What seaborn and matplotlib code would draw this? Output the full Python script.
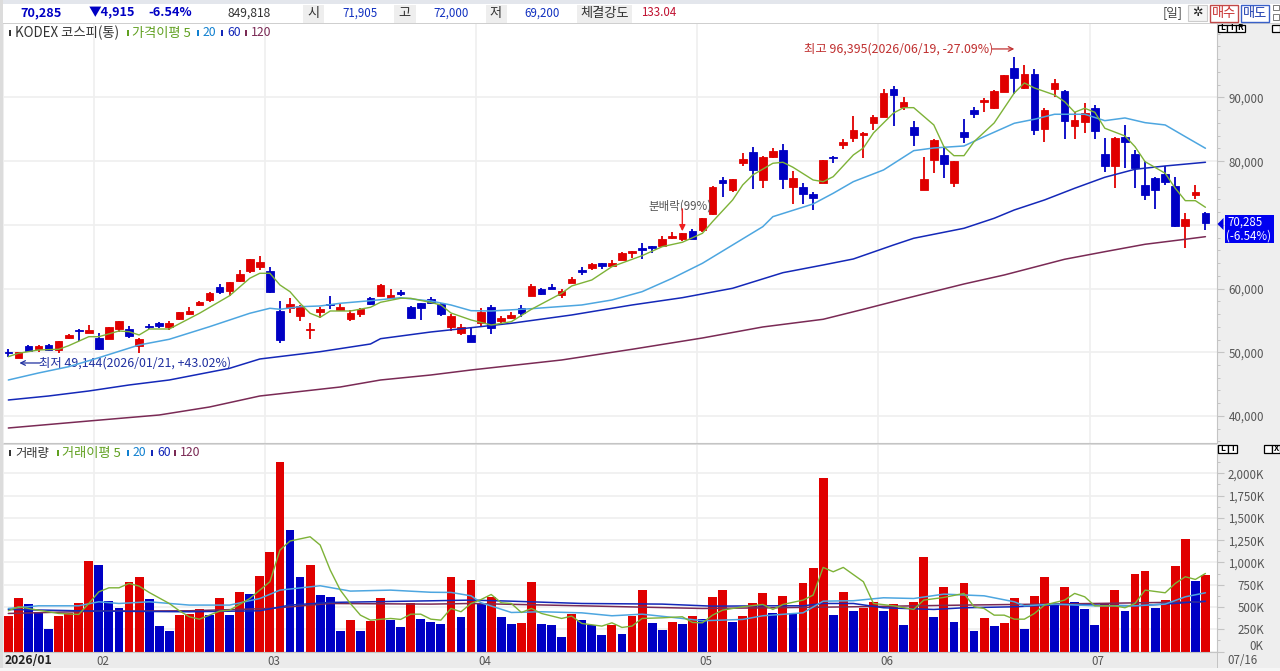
import numpy as np
import pandas as pd
import seaborn as sns
import matplotlib.pyplot as plt
from matplotlib.patches import Rectangle, Polygon

wick_high = [50466,50042,51141,51141,51298,51769,52868,53653,54281,52978,
    53967,54909,54124,52287,54391,54752,54956,56322,57060,57971,
    59415,60765,61079,62869,64643,65114,63387,58096,58567,57421,
    54548,57154,58881,57688,56683,56950,58677,60718,59886,59729,
    57186,57735,58724,57656,55961,54391,54014,56902,57374,55694,
    56369,57374,60718,60012,60718,59886,61864,63387,64015,64015,
    64486,65663,65899,67202,66684,68254,68882,68725,69306,71080,
    76104,77470,77203,81238,82274,80814,82070,82698,78459,76575,
    75162,80186,80814,83436,87094,84629,87251,91333,91804,90124,
    86356,80704,83405,82274,80029,86576,88460,89967,91176,93531,
    96395,95054,94426,88303,92903,91176,87769,89182,88868,83640,
    83718,85681,81756,79982,77439,79244,77564,71818,76261,72000]
wick_low = [49210,49144,50199,50088,50199,49932,52083,51816,52978,50309,
    52083,53229,52287,49838,53606,53857,53543,55066,55804,57264,
    57939,59101,58834,61079,62492,62916,59368,51502,56118,54909,
    52036,55427,56746,56479,54956,55490,57468,58756,58441,58881,
    55176,55066,57578,55694,53386,52711,51612,54124,52915,54391,
    55270,55584,58834,58991,59886,58567,60875,62131,62916,63120,
    63340,64408,64800,64596,65585,66684,67830,67469,67704,68882,
    71551,74330,75115,79244,75680,75837,80500,75680,73278,73231,
    72336,76575,79762,81960,83059,80453,84896,86859,85524,88036,
    82431,75476,78192,77407,75995,82902,86733,87722,88240,90862,
    90548,91380,84158,82965,90124,83530,83530,84472,83530,78302,
    75790,78930,75837,73906,72540,76261,69714,66323,74015,69200]
body_top = [50042,50042,51031,51031,51141,51769,52711,53543,53496,52287,
    53920,54909,53653,52036,54124,54642,54595,56275,56432,57939,
    59258,60294,60985,62288,64596,64172,62712,56479,57531,57264,
    53700,56840,57578,57060,56118,56840,58567,60561,59038,59415,
    57060,57688,58410,57578,55694,54014,52711,56275,57154,55380,
    55804,56997,60357,59933,60200,59572,61503,62964,63811,63967,
    64015,65632,65852,66417,66637,67783,68254,68678,68992,71033,
    75994,76999,77156,80296,81489,80704,81647,81803,77360,75947,
    74848,80139,80704,83012,84896,84425,86890,90752,91333,89245,
    85367,77203,83326,80924,79982,84582,88036,89606,91066,93531,
    94583,93688,93688,87989,92275,91066,86466,87612,88303,81175,
    83640,83797,81081,76261,77360,77988,76104,70876,75209,71905]
body_bottom = [49948,49147,50246,50513,50356,50356,52193,53292,53072,50466,
    52130,53653,52601,51031,53967,54077,53967,55223,56008,57421,
    58159,59462,59666,61189,62759,63387,59415,51926,56903,55694,
    53449,56322,57372,56589,55223,56055,57578,58787,58473,59101,
    55333,56950,57782,56008,54014,53072,51659,54642,53810,54956,
    55333,56212,58881,59101,59980,58944,60922,62555,63182,63497,
    63497,64439,65538,66009,66417,66731,67987,67830,67736,69196,
    71708,76622,75523,79762,78616,77093,80610,77250,75900,74895,
    74173,76622,80500,82588,83687,84064,86042,86890,90438,88460,
    84111,75523,80186,79558,76622,83844,87455,89292,88303,90909,
    93107,91490,84943,85100,91380,86356,85571,86199,84786,79244,
    79244,83012,78930,74738,75523,76779,69871,69824,74644,70285]
candle_colors = list("BRBRBRRBRB" "RRBRBBRRRR" "RBRRRRBBRR" "RRBRRRBRRB"
                     "BBBBRRBRBR" "RBRBBRRBRB" "RRRBBRRRBR" "RBRRBRRBRB"
                     "BRBRRRRRBR" "BRRBRBBRRR" "BRBRRBRRBB" "RBBBBBBRRB")

volume = [400,595,532,438,255,400,427,540,1015,970,
    562,487,783,839,584,285,232,408,423,472,
    408,595,408,663,648,850,1112,2127,1363,835,
    970,629,607,232,352,232,345,595,352,277,
    540,363,333,307,839,386,805,539,614,386,
    307,318,783,307,296,165,419,352,296,187,
    296,202,397,685,318,243,330,307,397,363,
    607,685,330,397,539,652,427,618,427,771,
    936,1951,408,670,453,483,551,453,532,296,
    551,1060,386,719,330,771,232,375,285,318,
    595,255,618,839,539,719,551,476,296,539,
    693,453,869,903,487,573,959,1266,790,858]
volume_colors = list("RRBBBRRRRB" "BBRRBBBRRR" "BRBRBRRRBB" "RBBBRBRRBB"
                     "RBBBRBRBRB" "BRRBBBRBBB" "RBRRBBRBRB" "RRBRRRBRBR"
                     "RRBRBRRBRB" "RRBRBRBRBR" "RBRRBRBBBR" "RBRRBRRRBR")

ma5_x = [0,1,3,5,6,8,9,11,12,13,14,16,19,22,24,25,26,27,28,29,30,31,32,34,36,37,39,40,
    42,43,44,46,48,50,52,55,56,58,60,63,65,67,69,70,72,73,74,76,77,78,80,81,82,84,85,
    86,88,89,90,92,93,94,95,96,98,100,101,102,104,105,106,107,108,109,111,112,113,115,
    116,117,118,119]
ma5 = [49305,49838,50356,50466,51031,52444,52444,53339,53229,52711,53653,53653,56118,
    58881,61613,62398,62398,60561,59509,57688,56118,55490,56479,56479,57060,57845,
    58473,58473,57813,57421,56165,55066,54281,54799,56746,59258,60404,61346,63434,
    65161,66574,67265,68678,70499,73906,76261,77831,79668,79825,79040,77046,76779,
    77564,80971,82070,84425,87565,88397,88397,85681,82274,80861,80861,83059,85995,
    90705,92275,91490,90391,89339,87675,88303,87675,85163,83954,82274,79919,78098,
    75743,73796,73796,72760]
ma20_x = [0,3,6,9,13,16,20,24,26,27,29,31,33,36,39,41,42,44,46,48,52,57,60,63,66,69,72,
    75,76,80,82,84,87,90,92,95,97,100,102,104,107,109,111,113,115,117,119]
ma20 = [45646,46745,47734,49147,51141,52036,54014,56118,56903,56746,57154,57264,57688,
    58096,58567,58206,58049,57421,56526,56479,56840,57421,58206,59509,61613,63968,
    66841,69714,71284,73278,74958,76779,78616,81646,82070,82384,83844,85948,86576,
    87361,87361,86356,86780,86042,85681,83844,82023]
ma60_x = [0,4,8,12,16,22,25,31,36,37,42,46,50,56,62,67,72,77,81,84,88,90,95,98,100,103,
    106,109,112,115,119]
ma60 = [42506,43134,43919,44861,45646,47483,48943,50090,51298,52130,53182,53857,54548,
    55851,57421,58567,60043,62492,63701,64643,66841,67893,69463,71033,72336,73906,
    75743,77470,78726,79244,79825]
ma120_x = [0,8,15,20,25,33,37,42,46,55,62,69,75,81,85,89,95,99,105,109,113,117,119]
ma120 = [38110,39209,40151,41407,43134,44547,45646,46431,47216,48786,50466,52240,53970,
    55176,56746,58363,60718,62131,64596,65789,66951,67736,68144]

vma5_x = [0,1,3,5,7,8,9,10,11,12,13,14,16,17,18,19,20,21,22,24,25,26,27,28,30,31,32,33,
    34,35,36,38,39,40,41,42,43,44,45,46,47,48,49,50,51,52,53,55,56,57,59,60,61,62,63,
    65,67,68,69,70,71,73,75,76,77,79,80,81,82,83,85,86,88,90,91,93,95,96,97,98,99,100,
    101,102,103,105,106,107,108,110,111,112,113,115,116,117,118,119]
vma5 = [457,502,464,427,416,539,670,715,715,764,734,663,539,457,389,363,408,453,464,
    595,689,783,1138,1240,1288,1195,914,689,539,408,352,371,360,419,419,363,352,483,
    446,539,584,640,547,539,438,483,427,371,397,315,285,322,270,285,371,378,390,326,
    322,408,464,502,528,472,528,577,633,944,895,944,783,539,513,472,577,607,652,502,
    483,408,408,363,363,427,521,577,652,614,513,513,491,539,689,659,764,839,809,876]
vma20_x = [0,3,7,9,11,14,18,22,25,27,31,34,38,42,44,46,47,50,53,57,60,63,67,69,73,75,79,
    81,84,87,90,93,97,100,101,104,108,112,115,117,119]
vma20 = [483,513,513,558,539,558,521,521,595,689,738,678,689,665,663,625,547,438,446,
    434,401,419,371,345,360,401,434,565,570,603,595,644,625,558,513,532,513,513,532,
    614,659]
vma60_x = [0,9,18,25,28,32,42,46,50,57,65,70,76,79,81,84,87,92,95,100,105,112,115,119]
vma60 = [472,453,446,457,521,551,569,577,565,539,532,509,513,513,539,539,491,472,491,
    502,528,513,532,565]
vma120_x = [0,9,18,26,32,42,46,57,69,76,84,95,108,119]
vma120 = [427,453,457,483,539,532,539,513,483,491,502,521,539,558]

month_pos = [8.5, 25.5, 46.5, 68.5, 86.5, 107.5]
month_labels = ['02', '03', '04', '05', '06', '07']
price_ticks = [40000, 50000, 60000, 70000, 80000, 90000]
volume_ticks = [0, 250, 500, 750, 1000, 1250, 1500, 1750, 2000]

RED = '#E00000'
BLUE = '#0000C4'
GREEN = '#7DB237'
SKY = '#4DA6E0'
NAVY = '#1428B8'
MAROON = '#7A2A55'
GRID = '#EFEFEF'

sns.set_style('white', {'axes.edgecolor': '#C4C4C4'})
plt.rcParams['font.family'] = ['Noto Sans CJK KR', 'DejaVu Sans']
plt.rcParams['font.size'] = 8.3

W, H = 1280, 671
fig = plt.figure(figsize=(12.8, 6.71), dpi=100, facecolor='#EEEEEE')


def box(x0, y0, x1, y1, face, edge='none', lw=0.0, zorder=-5):
    fig.add_artist(Rectangle((x0 / W, 1 - y1 / H), (x1 - x0) / W, (y1 - y0) / H,
                             transform=fig.transFigure, facecolor=face,
                             edgecolor=edge, linewidth=lw, zorder=zorder))


def label(x, y, s, color='#333333', ha='left', size=8.3, weight='normal', zorder=6):
    fig.text(x / W, 1 - y / H, s, color=color, ha=ha, va='center', fontsize=size,
             fontweight=weight, zorder=zorder)


def panel(y0, y1):
    return fig.add_axes([4 / W, 1 - y1 / H, 1213 / W, (y1 - y0) / H])


ax = panel(24, 443)
ax_vol = panel(445, 651.5)

# candles
x = np.arange(120)
colors = [RED if c == 'R' else BLUE for c in candle_colors]
ax.vlines(x, wick_low, wick_high, colors=colors, linewidth=1.3, zorder=3)
# force_edgecolor in the seaborn style paints white edges, so set them here
ax.bar(x, np.array(body_top) - np.array(body_bottom), bottom=body_bottom, width=0.76,
       color=colors, edgecolor=colors, linewidth=0.6, zorder=3)

# moving averages on price
for xs, ys, col, lw in [(ma120_x, ma120, MAROON, 1.1), (ma60_x, ma60, NAVY, 1.1),
                        (ma20_x, ma20, SKY, 1.1), (ma5_x, ma5, GREEN, 1.0)]:
    sns.lineplot(x=xs, y=ys, color=col, linewidth=lw, ax=ax, zorder=4)

# volume bars
vol_df = pd.DataFrame({'i': x, 'volume': volume, 'side': volume_colors})
sns.barplot(data=vol_df, x='i', y='volume', hue='side', palette={'R': RED, 'B': BLUE},
            native_scale=True, dodge=False, width=0.88, saturation=1, legend=False,
            edgecolor='none', linewidth=0, ax=ax_vol, zorder=2)
for xs, ys, col, lw in [(vma120_x, vma120, MAROON, 1.1), (vma60_x, vma60, NAVY, 1.1),
                        (vma20_x, vma20, SKY, 1.1), (vma5_x, vma5, GREEN, 1.0)]:
    sns.lineplot(x=xs, y=ys, color=col, linewidth=lw, ax=ax_vol, zorder=4)

for a in (ax, ax_vol):
    a.set_xlim(-0.43, 120.15)
    a.set_xlabel('')
    a.set_ylabel('')
    a.set_facecolor('white')
    a.set_xticks(month_pos)
    a.grid(True, color=GRID, linewidth=1.2, zorder=0)
    a.set_axisbelow(True)
    a.yaxis.tick_right()
    for side in ['top', 'left']:
        a.spines[side].set_visible(False)
    a.tick_params(axis='x', length=0)
    a.tick_params(axis='y', which='major', length=5, width=0.8, color='#C4C4C4',
                  labelcolor='#555555', pad=29, labelsize=8.3)
    a.tick_params(axis='y', which='minor', length=2.5, width=0.7, color='#C4C4C4')

# the 70,000 tick sits behind the last price flag
ax.set_ylim(35755, 101530)
ax.set_yticks(price_ticks, [f'{v:,}' if v != 70000 else '' for v in price_ticks])
ax.set_yticks(np.arange(36000, 102000, 2000), minor=True)
ax.set_xticklabels([])

ax_vol.set_ylim(0, 2318)
ax_vol.set_yticks(volume_ticks, [f'{v:,}K' if v else '' for v in volume_ticks])
ax_vol.set_yticks(np.arange(0, 2300, 125), minor=True)
ax_vol.set_xticklabels([])
for lab in ax.get_yticklabels() + ax_vol.get_yticklabels():
    lab.set_ha('right')
ax_vol.spines['bottom'].set_color('#C4C4C4')
for pos, s in zip(month_pos, month_labels):
    ax_vol.annotate(s, xy=(pos, 0), xycoords=('data', 'axes fraction'), xytext=(1.5, -7),
                    textcoords='offset points', ha='left', va='center', color='#555555',
                    fontsize=8.3, annotation_clip=False)
ax_vol.annotate('0K', xy=(1, 0), xycoords='axes fraction', xytext=(33, 3.6),
                textcoords='offset points', ha='right', va='center', color='#555555',
                fontsize=8.3, annotation_clip=False)

# high / low / distribution notes
ax.text(97.9, 97613, '최고 96,395(2026/06/19, -27.09%)', color='#C03030', ha='right',
        va='center', fontsize=8.9)
ax.annotate('', xy=(100.0, 97613), xytext=(97.8, 97613),
            arrowprops=dict(arrowstyle='->', color='#C03030', lw=0.9, shrinkA=0, shrinkB=0))
ax.text(3.05, 48315, '최저 49,144(2026/01/21, +43.02%)', color='#2030A0', ha='left',
        va='center', fontsize=8.9)
ax.annotate('', xy=(1.1, 48315), xytext=(3.15, 48315),
            arrowprops=dict(arrowstyle='->', color='#2030A0', lw=0.9, shrinkA=0, shrinkB=0))
ax.text(66.8, 72950, '분배락(99%)', color='#555555', ha='center', va='center', fontsize=8.3,
        zorder=5)
ax.annotate('', xy=(67, 69000), xytext=(67, 72500),
            arrowprops=dict(arrowstyle='-|>', color='#EE2020', lw=1.0, shrinkA=0, shrinkB=0,
                            mutation_scale=9), zorder=5)

# header bar
box(0, 0, W, 4, '#E3E6EC', zorder=-4)
box(0, 0, 3, H, '#DCDCDC', zorder=-3)
box(3, 4, W, 23.5, 'white', zorder=-3)
box(3, 23, W, 24, '#CFCFCF', zorder=-2)
box(3, 443, 1217, 445, '#DDDDDD', zorder=-2)
box(3, 652, 1217, 668, '#EBEBEB', zorder=-2)
box(1217, 652, 1218, 668, '#C4C4C4', zorder=-1)
box(0, 668, W, H, '#F6F6F6', zorder=-1)

label(20, 13, '70,285', color=BLUE, weight='bold', size=9.1)
label(89, 13, '▼4,915', color=BLUE, weight='bold', size=9.1)
label(148, 13, '-6.54%', color=BLUE, weight='bold', size=9.1)
label(228, 13, '849,818', color='#333333', size=8.7)
for x0, x1, s in [(303, 324, '시'), (394, 415.5, '고'), (485.5, 506.5, '저'), (577, 632, '체결강도')]:
    box(x0, 4.5, x1, 23, '#EEEEEE', zorder=-1)
    label((x0 + x1) / 2, 13, s, color='#333333', ha='center', size=9.5)
label(342, 13, '71,905', color='#1030C0')
label(433, 13, '72,000', color='#1030C0')
label(524, 13, '69,200', color='#1030C0')
label(641, 13, '133.04', color='#C01030')

label(1163, 13, '[일]', color='#444444', size=9)
box(1188, 5.5, 1207, 21, '#F4F4F4', edge='#CCCCCC', lw=0.8, zorder=1)
label(1197.5, 13, '✲', color='#222222', ha='center', size=9)
box(1209.5, 5, 1238, 22, 'white', edge='#C04848', lw=1.0, zorder=1)
label(1224, 13, '매수', color='#C83030', ha='center', size=9.5)
box(1241, 5, 1269, 22, 'white', edge='#3860C8', lw=1.0, zorder=1)
label(1255, 13, '매도', color='#2040B0', ha='center', size=9.5)
box(1272.5, 5, 1279, 10, 'white', edge='#666666', lw=0.6, zorder=1)
box(1272.5, 14, 1279, 20, 'white', edge='#666666', lw=0.6, zorder=1)

# little scale buttons
for x0, s in [(1218, 'L'), (1227, 'I'), (1236, 'R')]:
    box(x0, 24.5, x0 + 9, 32, 'white', edge='black', lw=0.9, zorder=2)
    label(x0 + 4.5, 28, s, color='black', ha='center', size=6, weight='bold')
box(1272, 24.5, 1280, 32, 'white', edge='black', lw=0.9, zorder=2)
for x0, s in [(1218, 'L'), (1227.5, 'I')]:
    box(x0, 444.5, x0 + 9.5, 453, 'white', edge='black', lw=0.9, zorder=2)
    label(x0 + 4.7, 448.5, s, color='black', ha='center', size=6, weight='bold')
box(1263.5, 444.5, 1272, 453, 'white', edge='black', lw=0.9, zorder=2)
box(1272, 444.5, 1280, 453, 'white', edge='black', lw=0.9, zorder=2)
label(1276, 448.5, 'X', color='black', ha='center', size=6, weight='bold')

# legends
label(15, 33, 'KODEX 코스피(통)', color='#333333', size=9.6)
label(132, 33, '가격이평 5', color='#60A020', size=9.5)
label(203, 33, '20', color='#1080D0', size=8.8)
label(227, 33, '60', color=NAVY, size=8.8)
label(251, 33, '120', color=MAROON, size=8.8)
for x0, col in [(9, '#333333'), (127, '#60A020'), (197, '#1080D0'), (221, NAVY), (245, MAROON)]:
    box(x0, 30, x0 + 2, 36, col, zorder=5)
label(15, 453, '거래량', color='#333333', size=8.8)
label(62, 453, '거래이평 5', color='#60A020', size=9.5)
label(133, 453, '20', color='#1080D0', size=8.8)
label(157, 453, '60', color=NAVY, size=8.8)
label(180, 453, '120', color=MAROON, size=8.8)
for x0, col in [(9, '#333333'), (57, '#60A020'), (127, '#1080D0'), (151, NAVY), (174, MAROON)]:
    box(x0, 450, x0 + 2, 456, col, zorder=5)

# last price flag
box(1225, 215, 1274, 243, '#0000F0', zorder=5)
label(1227, 222.5, '70,285', color='white')
label(1226, 236, '(-6.54%)', color='white')
fig.add_artist(Polygon([(1217.5 / W, 1 - 224 / H), (1223.5 / W, 1 - 218 / H), (1223.5 / W, 1 - 230 / H)],
                       transform=fig.transFigure, facecolor='#0000E0', edgecolor='none', zorder=5))

label(5, 661, '2026/01', color='#222222', weight='bold', size=8.8)
label(1227, 661, '07/16', color='#555555')

fig.savefig('out.png', dpi=100, facecolor=fig.get_facecolor())
